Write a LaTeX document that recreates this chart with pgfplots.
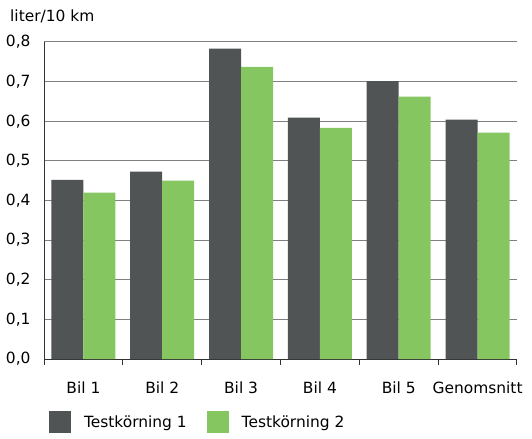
\documentclass[border=0pt]{standalone}
\usepackage{pgfplots}
\pgfplotsset{compat=1.18}
\usepackage{fontspec}
\setmainfont{DejaVu Sans}
\definecolor{dark}{HTML}{505455}
\definecolor{grn}{HTML}{86C661}
\begin{document}
\begin{tikzpicture}[font=\fontsize{15.5}{18}\selectfont]
\begin{axis}[
  scale only axis, width=473bp, height=317bp,
  xmin=-0.5, xmax=5.5, ymin=0, ymax=0.8,
  ybar=0pt, bar width=32bp,
  axis x line*=bottom, axis y line*=left,
  axis line style={black!80, line width=1pt},
  ymajorgrids, grid style={black!50, line width=1pt},
  ytick={0,0.1,0.2,0.3,0.4,0.5,0.6,0.7,0.8},
  ytick style={draw=none},
  yticklabel style={inner sep=0pt, anchor=east, xshift=-9bp,
    /pgf/number format/.cd, fixed, fixed zerofill, precision=1, use comma, assume math mode=true},
  xtick={0,1,2,3,4,5},
  xticklabels={Bil 1,Bil 2,Bil 3,Bil 4,Bil 5,Genomsnitt},
  major x tick style={draw=none},
  xticklabel style={anchor=base, inner sep=0pt, yshift=-30bp},
  minor xtick={-0.5,0.5,1.5,2.5,3.5,4.5,5.5},
  minor x tick style={draw=black!80, line width=1pt},
  minor tick length=6bp,
  tick align=outside,
  legend columns=2,
  legend cell align=left,
  legend image code/.code={\fill[#1] (0bp,-11bp) rectangle (22bp,11bp);},
  legend style={draw=none, fill=none, at={(0,-0.199)}, anchor=west, xshift=5bp,
    inner sep=0pt, outer sep=0pt,
    /tikz/every even column/.append style={column sep=20bp},
    nodes={inner sep=0pt, outer sep=0pt, anchor=west}},
  /tikz/every odd column/.append style={column sep=13bp},
]
\addplot[fill=dark, draw=none] coordinates {(0,0.452) (1,0.473) (2,0.783) (3,0.609) (4,0.701) (5,0.604)};
\addplot[fill=grn, draw=none] coordinates {(0,0.420) (1,0.450) (2,0.737) (3,0.583) (4,0.662) (5,0.571)};
\legend{Testkörning 1, Testkörning 2}
\end{axis}
\node[anchor=base west, inner sep=0pt] at (-34bp,337bp) {liter/10 km};
\path[use as bounding box] (-44bp,-80bp) rectangle (488bp,359bp);
\end{tikzpicture}
\end{document}
